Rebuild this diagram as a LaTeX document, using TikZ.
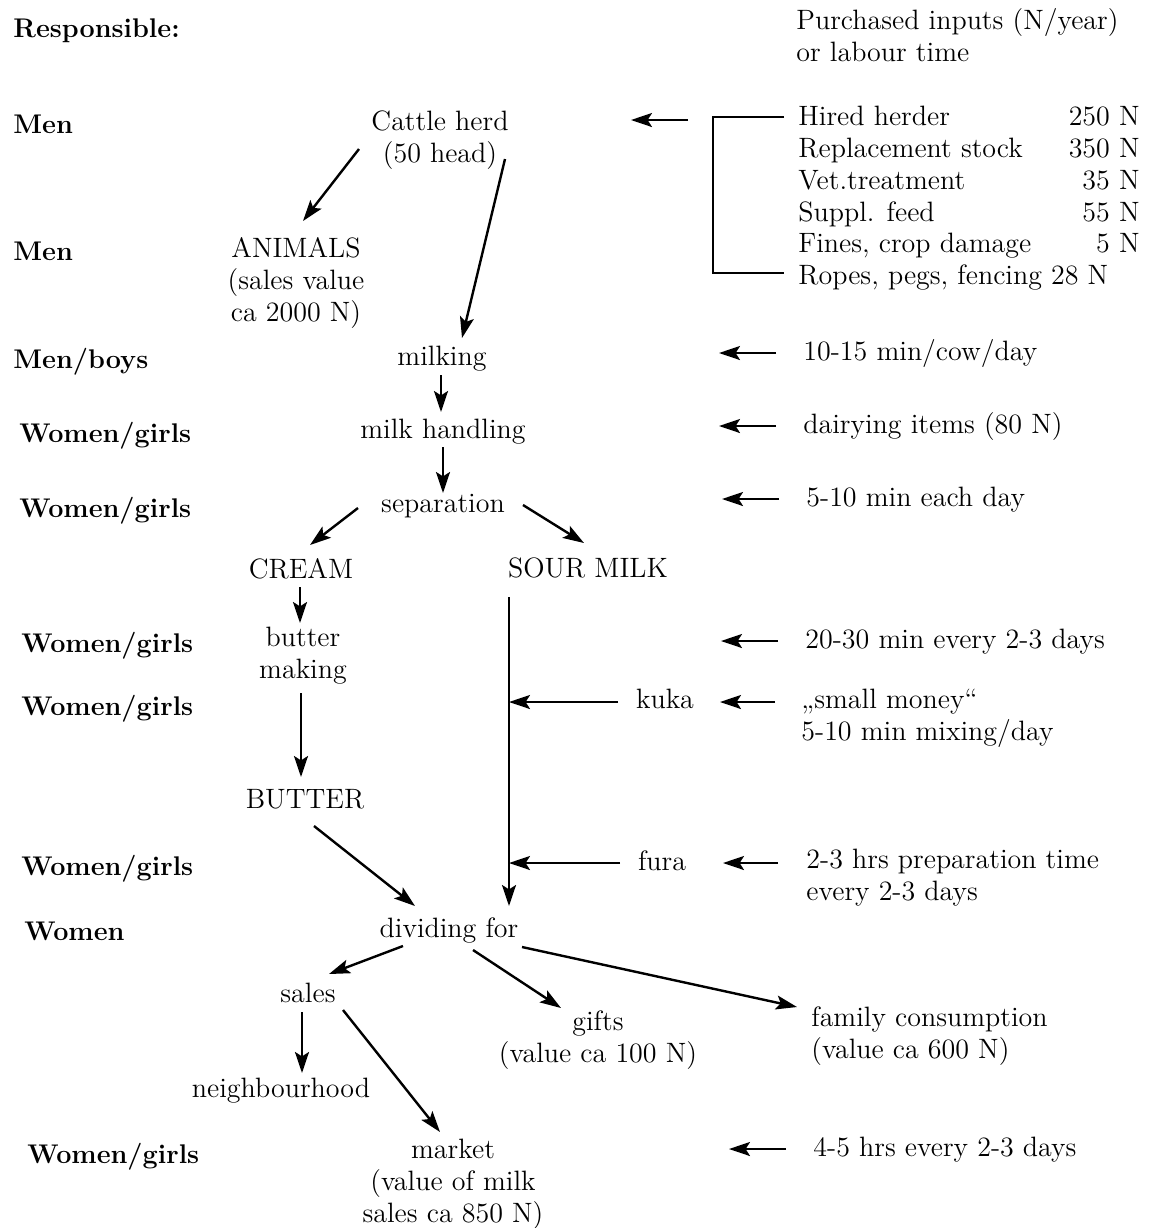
\documentclass[tikz,border=0pt]{standalone}
\usepackage{fontspec}
\usetikzlibrary{arrows.meta,calc}
\begin{document}
\begin{tikzpicture}[x=0.5pt,y=-0.5pt,
  txt/.style={font=\fontsize{14}{16}\selectfont,inner sep=0pt,align=center},
  lab/.style={font=\fontsize{13.5}{16}\selectfont\bfseries,inner sep=0pt,anchor=base west},
  arr/.style={-{Stealth[length=10.5pt,width=7pt,inset=2.2pt]},line width=1.2pt},
  ln/.style={line width=1.2pt}]
\fill[white] (0,0) rectangle (1150,1228);
\useasboundingbox (0,0) rectangle (1150,1228);

% who is responsible for each step
\node[lab] (rResp) at (13,37) {Responsible:};
\node[lab] (rMen1) at (13,133) {Men};
\node[lab] (rMen2) at (13,260) {Men};
\node[lab] (rBoys) at (13,368) {Men/boys};
\node[lab] (rWg1) at (19,442) {Women/girls};
\node[lab] (rWg2) at (19,517) {Women/girls};
\node[lab] (rWg3) at (21,652) {Women/girls};
\node[lab] (rWg4) at (21,715) {Women/girls};
\node[lab] (rWg5) at (21,875) {Women/girls};
\node[lab] (rWom) at (24,940) {Women};
\node[lab] (rWg6) at (27,1163) {Women/girls};

% production chain
\node[txt] (cattle) at (440,140) {Cattle herd\\(50 head)};
\node[txt] (animals) at (296,283) {ANIMALS\\(sales value\\ca 2000 N)};
\node[txt,anchor=base] (milking) at (442,365) {milking};
\node[txt,anchor=base] (handling) at (443,438) {milk handling};
\node[txt,anchor=base] (separation) at (443,512) {separation};
\node[txt,anchor=base] (cream) at (301,578) {CREAM};
\node[txt,anchor=base] (sour) at (588,577) {SOUR MILK};
\node[txt] (buttermk) at (303,656) {butter\\making};
\node[txt,anchor=base] (butter) at (305,808) {BUTTER};
\node[txt,anchor=base] (kuka) at (665,708) {kuka};
\node[txt,anchor=base] (fura) at (662,870) {fura};
\node[txt,anchor=base] (dividing) at (449,937) {dividing for};
\node[txt,anchor=base] (sales) at (308,1002) {sales};
\node[txt] (gifts) at (598,1040) {gifts\\(value ca 100 N)};
\node[txt,align=left,anchor=west] (family) at (811,1036) {family consumption\\(value ca 600 N)};
\node[txt,anchor=base] (neigh) at (281,1097) {neighbourhood};
\node[txt] (market) at (453,1184) {market\\(value of milk\\sales ca 850 N)};

% purchased inputs
\node[txt,align=left,anchor=west] (purch) at (796,35) {Purchased inputs (N/year)\\or labour time};
\node[txt,anchor=base west] (iHerder) at (798,125) {Hired herder};
\node[txt,anchor=base west] (iStock) at (798,157) {Replacement stock};
\node[txt,anchor=base west] (iVet) at (798,189) {Vet.treatment};
\node[txt,anchor=base west] (iFeed) at (798,221) {Suppl. feed};
\node[txt,anchor=base west] (iFines) at (798,252) {Fines, crop damage};
\node[txt,anchor=base west] (iRopes) at (798,284) {Ropes, pegs, fencing 28 N};
\node[txt,anchor=base east] (aHerder) at (1140,125) {250 N};
\node[txt,anchor=base east] (aStock) at (1140,157) {350 N};
\node[txt,anchor=base east] (aVet) at (1140,189) {35 N};
\node[txt,anchor=base east] (aFeed) at (1140,221) {55 N};
\node[txt,anchor=base east] (aFines) at (1140,252) {5 N};

% labour time
\node[txt,anchor=base west] (tMilk) at (803,360) {10-15 min/cow/day};
\node[txt,anchor=base west] (tDairy) at (803,433) {dairying items (80 N)};
\node[txt,anchor=base west] (tSep) at (806,506) {5-10 min each day};
\node[txt,anchor=base west] (tButter) at (805,648) {20-30 min every 2-3 days};
\node[txt,align=left,anchor=west] (tKuka) at (801,718) {„small money“\\5-10 min mixing/day};
\node[txt,align=left,anchor=west] (tFura) at (806,878) {2-3 hrs preparation time\\every 2-3 days};
\node[txt,anchor=base west] (tMarket) at (813,1156) {4-5 hrs every 2-3 days};

% bracket over the purchased items and its arrow
\draw[ln] ($(iHerder.base west)+(-14,-8)$) -| ($(iRopes.base west)+(-85,-11)$) -- ($(iRopes.base west)+(-14,-11)$);
\draw[arr] ($(iHerder.base west)+(-110,-5)$) -- ++(-57,0);

% labour arrows
\foreach \t in {tMilk,tDairy,tSep,tButter,tMarket}
  \draw[arr] ($(\t.base west)+(-27,-7)$) -- ++(-57,0);
\draw[arr] ($(tKuka.west)+(-26,-16)$) -- ++(-55,0);
\draw[arr] ($(tFura.west)+(-28,-15)$) -- ++(-55,0);

% sour milk line with kuka and fura joining
\coordinate (sTop) at ($(sour.base)+(-79,20)$);
\draw[arr] (sTop) -- ($(dividing.base)+(60,-31)$);
\coordinate (kT) at ($(kuka.base)+(-47,-6)$);
\draw[arr] (kT) -- (kT -| sTop);
\coordinate (fT) at ($(fura.base)+(-42,-7)$);
\draw[arr] (fT) -- (fT -| sTop);

% flow arrows
\draw[arr] ($(cattle.center)+(-81,9)$) -- ($(animals.center)+(7,-62)$);
\draw[arr] ($(cattle.center)+(65,19)$) -- ($(milking.base)+(20,-27)$);
\draw[arr] ($(milking.base)+(-1,10)$) -- ($(handling.base)+(-2,-26)$);
\draw[arr] ($(handling.base)+(0,9)$) -- ($(separation.base)+(0,-19)$);
\draw[arr] ($(separation.base)+(-85,-4)$) -- ($(cream.base)+(9,-33)$);
\draw[arr] ($(separation.base)+(80,-7)$) -- ($(sour.base)+(-4,-34)$);
\draw[arr] ($(cream.base)+(-1,9)$) -- ($(buttermk.center)+(-3,-33)$);
\draw[arr] ($(buttermk.center)+(-2,37)$) -- ($(butter.base)+(-4,-31)$);
\draw[arr] ($(butter.base)+(9,18)$) -- ($(dividing.base)+(-34,-31)$);
\draw[arr] ($(dividing.base)+(-46,9)$) -- ($(sales.base)+(21,-28)$);
\draw[arr] ($(dividing.base)+(24,13)$) -- ($(gifts.center)+(-37,-32)$);
\draw[arr] ($(dividing.base)+(73,10)$) -- ($(family.west)+(-14,-29)$);
\draw[arr] ($(sales.base)+(-6,10)$) -- ($(neigh.base)+(21,-24)$);
\draw[arr] ($(sales.base)+(35,8)$) -- ($(market.center)+(-13,-52)$);
\end{tikzpicture}
\end{document}
